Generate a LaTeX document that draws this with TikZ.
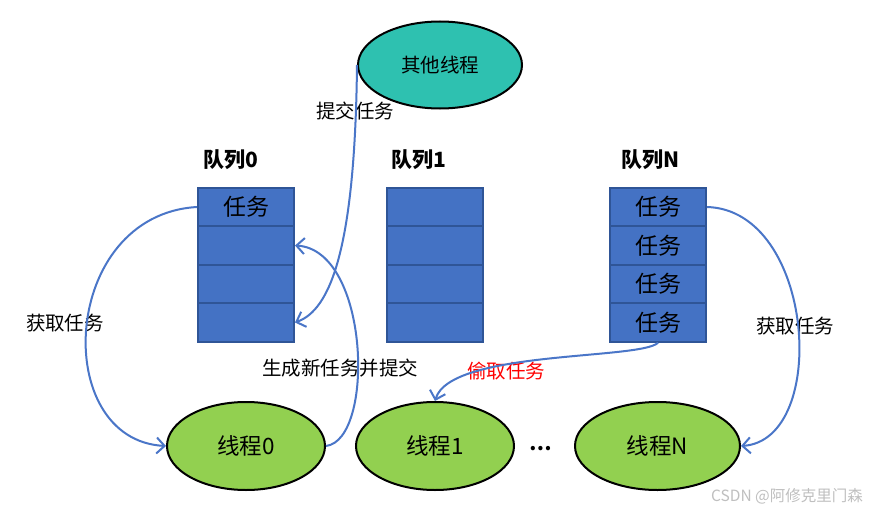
\documentclass[tikz,border=0pt]{standalone}
\usepackage{fontspec}
\setmainfont{Noto Sans CJK SC}
\usetikzlibrary{arrows.meta,shapes.geometric}
\definecolor{qblue}{HTML}{4472C4}
\definecolor{qborder}{HTML}{2F5597}
\definecolor{tgreen}{HTML}{92D050}
\definecolor{teal}{HTML}{2EC1B0}
\definecolor{arrowblue}{HTML}{4A76C8}
\tikzset{
  cell/.style={draw=qborder,fill=qblue,line width=2pt,minimum width=96pt,minimum height=38.5pt,inner sep=0pt,font=\fontsize{23}{23}\selectfont},
  thread/.style={ellipse,draw=black,fill=tgreen,line width=2pt,minimum width=158pt,minimum height=88pt,inner sep=0pt,font=\fontsize{22.5}{22.5}\selectfont},
  qlabel/.style={font=\fontsize{21}{21}\selectfont\bfseries},
  lbl/.style={font=\fontsize{19.5}{19.5}\selectfont},
  flow/.style={draw=arrowblue,line width=2pt,-{Straight Barb[length=8pt,width=16pt,line width=2pt]}}
}
\begin{document}
\begin{tikzpicture}[x=1pt,y=-1pt]
\useasboundingbox[fill=white] (0,0) rectangle (873,511);
% other thread
\node[ellipse,draw=black,fill=teal,line width=2pt,minimum width=164pt,minimum height=87pt,inner sep=0pt,font=\fontsize{19.5}{19.5}\selectfont] (other) at (440,65) {其他线程};
% queues
\foreach \q/\x in {0/246,1/435,N/658}{
  \node[cell] (q\q c1) at (\x,207) {};
  \node[cell] (q\q c2) at (\x,245.5) {};
  \node[cell] (q\q c3) at (\x,284) {};
  \node[cell] (q\q c4) at (\x,322.5) {};
}
\node[cell] at (q0c1) {任务};
\node[cell] at (qNc1) {任务};
\node[cell] at (qNc2) {任务};
\node[cell] at (qNc3) {任务};
\node[cell] at (qNc4) {任务};
\node[qlabel] (l0) at (231,160) {队列0};
\node[qlabel] (l1) at (419,160) {队列1};
\node[qlabel] (lN) at (651,160) {队列N};
% threads
\node[thread] (t0) at (246,446) {线程0};
\node[thread] (t1) at (435,446) {线程1};
\node[thread,minimum width=165pt] (tN) at (657.5,446) {线程N};
\node[font=\fontsize{20}{20}\selectfont\bfseries] (dots) at (541,449) {…};
% labels
\node[lbl] (sub) at (355,111) {提交任务};
\node[lbl] (get0) at (65,323) {获取任务};
\node[lbl] (gen) at (340,368) {生成新任务并提交};
\node[lbl,text=red] (steal) at (506,371) {偷取任务};
\node[lbl] (getN) at (795,326) {获取任务};
\node[font=\fontsize{15.5}{15.5}\selectfont,text=black!25] (wm) at (787,496) {CSDN @阿修克里门森};
% connectors
\draw[flow] (q0c1.west) .. controls (60,215) and (50,440) .. (t0.west);
\draw[flow] (t0.east) .. controls (375,440) and (370,250) .. (q0c2.east);
\draw[flow] (other.west) .. controls (355,250) and (330,310) .. (q0c4.east);
\draw[flow] (qNc4.south) .. controls (640,360) and (450,350) .. (t1.north);
\draw[flow] (qNc1.east) .. controls (815,210) and (830,440) .. (tN.east);
\end{tikzpicture}
\end{document}
